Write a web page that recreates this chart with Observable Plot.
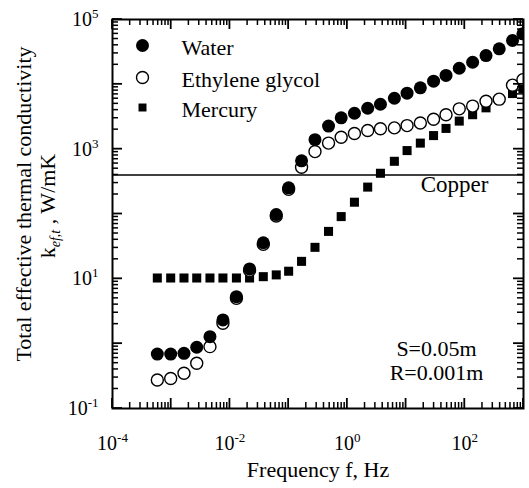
<!DOCTYPE html>
<html><head><meta charset="utf-8">
<script src="https://cdn.jsdelivr.net/npm/d3@7"></script>
<script src="https://cdn.jsdelivr.net/npm/@observablehq/plot@0.6"></script>
<style>body{margin:0;background:#fff} svg{display:block} svg text{font-family:"Liberation Serif","Times New Roman",serif}</style>
</head><body><div id="chart"></div>
<script>
const frequency = [5.8e-4, 9.8e-4, 1.65e-3, 2.72e-3, 4.57e-3, 7.6e-3, 0.0129, 0.0216, 0.037, 0.0615, 0.1, 0.166, 0.281, 0.478, 0.785, 1.32, 2.22, 3.66, 6.32, 10.4, 17.5, 29.4, 47.9, 80.5, 136, 230, 386, 650, 977];
const water = [0.69, 0.69, 0.71, 0.88, 1.28, 2.32, 5.3, 14.2, 36, 98, 253, 660, 1400, 2270, 3040, 3580, 4280, 4930, 6100, 7300, 8830, 11200, 13700, 17700, 21900, 27800, 35300, 47400, 60100];
const ethyleneGlycol = [0.275, 0.29, 0.35, 0.50, 0.90, 2.06, 5.0, 13.5, 34, 93, 240, 526, 918, 1240, 1530, 1740, 1940, 2060, 2130, 2310, 2530, 2890, 3400, 4190, 4620, 5470, 5910, 9720, 11800];
const mercury = [10.3, 10.3, 10.3, 10.3, 10.3, 10.3, 10.3, 10.3, 10.8, 11.5, 13.1, 18.6, 30.6, 53.9, 91.2, 152, 260, 425, 650, 951, 1240, 1620, 2090, 2710, 3400, 4340, 5780, 7210, 8610];
const copperK = [401];
const copperLabel = ["Copper"];
const seriesNames = ["Water", "Ethylene glycol", "Mercury"];
const annotation = ["S=0.05m\nR=0.001m"];
const xMajorTicks = [1e-4, 1e-3, 1e-2, 1e-1, 1e0, 1e1, 1e2, 1e3];
const yMajorTicks = [1e-1, 1e0, 1e1, 1e2, 1e3, 1e4, 1e5];
const xLabelTicks = [1e-4, 1e-2, 1e0, 1e2];
const yLabelTicks = [1e-1, 1e1, 1e3, 1e5];
const xTitle = ["Frequency f, Hz"];
const yTitle = ["Total effective thermal conductivity"];
const yUnit = ["k|ef,t|, W/mK"];

const minorOf = majors => majors.slice(0, -1).flatMap(m => [2,3,4,5,6,7,8,9].map(k => k * m));
const xMinor = minorOf(xMajorTicks);
const yMinor = minorOf(yMajorTicks);

const rows = frequency.map((f, i) => ({f, water: water[i], eg: ethyleneGlycol[i], hg: mercury[i]}));

const W = 529, H = 488, mL = 112, mR = 6, mT = 19, mB = 80;
const majLen = 10, minLen = 6;
const fmt = d => "10^" + Math.round(Math.log10(d));
const serif = "Liberation Serif";

const chart = Plot.plot({
  width: W, height: H, marginLeft: mL, marginRight: mR, marginTop: mT, marginBottom: mB,
  x: {type: "log", domain: [1e-4, 1e3]},
  y: {type: "log", domain: [1e-1, 1e5]},
  style: {fontFamily: serif, fontSize: "20px", color: "black", background: "white"},
  marks: [
    Plot.ruleY(copperK, {stroke: "black", strokeWidth: 1.5}),
    Plot.dot(rows, {x: "f", y: "hg", symbol: "square", r: 5.1, fill: "black", clip: true}),
    Plot.dot(rows, {x: "f", y: "eg", r: 6, fill: "white", stroke: "black", strokeWidth: 1.4, clip: true}),
    Plot.dot(rows, {x: "f", y: "water", r: 6.5, fill: "black", clip: true}),
    Plot.frame({stroke: "black", strokeWidth: 2}),
    // legend
    Plot.dot([seriesNames[0]], {frameAnchor: "top-left", dx: 30, dy: 26, r: 6.5, fill: "black"}),
    Plot.dot([seriesNames[1]], {frameAnchor: "top-left", dx: 30, dy: 58, r: 6, fill: "white", stroke: "black", strokeWidth: 1.4}),
    Plot.dot([seriesNames[2]], {frameAnchor: "top-left", dx: 30, dy: 88, symbol: "square", r: 4.5, fill: "black"}),
    Plot.text([seriesNames[0]], {frameAnchor: "top-left", dx: 69, dy: 28, text: d => d, textAnchor: "start", lineAnchor: "middle", fontSize: 22, fontFamily: serif}),
    Plot.text([seriesNames[1]], {frameAnchor: "top-left", dx: 69, dy: 60, text: d => d, textAnchor: "start", lineAnchor: "middle", fontSize: 22, fontFamily: serif}),
    Plot.text([seriesNames[2]], {frameAnchor: "top-left", dx: 69, dy: 90, text: d => d, textAnchor: "start", lineAnchor: "middle", fontSize: 22, fontFamily: serif}),
    // annotations
    Plot.text(copperLabel, {frameAnchor: "right", y: copperK[0], dx: -35, dy: 10, text: d => d, textAnchor: "end", lineAnchor: "middle", fontSize: 23, fontFamily: serif}),
    Plot.text(annotation, {frameAnchor: "bottom-right", dx: -87, dy: -29, text: d => d, textAnchor: "middle", lineAnchor: "bottom", lineHeight: 1.05, fontSize: 22, fontFamily: serif}),
    // axes
    Plot.axisX({ticks: xLabelTicks, tickSize: 0, tickPadding: 27, tickFormat: fmt, fontSize: 20, label: null, fontFamily: serif}),
    Plot.axisY({ticks: yLabelTicks, tickSize: 0, tickPadding: 14, tickFormat: fmt, fontSize: 20, label: null, fontFamily: serif}),
    Plot.text(xTitle, {frameAnchor: "bottom", dy: 68, text: d => d, textAnchor: "middle", lineAnchor: "bottom", fontSize: 22, fontFamily: serif}),
    Plot.text(yTitle, {frameAnchor: "left", dx: -89, dy: -10, rotate: -90, text: d => d, textAnchor: "middle", lineAnchor: "middle", fontSize: 22, fontFamily: serif}),
    Plot.text(yUnit, {frameAnchor: "left", dx: -65, dy: -8, rotate: -90, text: d => d, textAnchor: "middle", lineAnchor: "middle", fontSize: 22, fontFamily: serif})
  ]
});

// inward log ticks on all four sides, placed with the chart's own scales
const sx = chart.scale("x"), sy = chart.scale("y");
const frameL = mL, frameR = W - mR, frameT = mT, frameB = H - mB;
const gT = d3.select(chart).append("g").attr("stroke", "black").attr("aria-label", "inward ticks");
for (const [ts, len, sw] of [[xMinor, minLen, 1.5], [xMajorTicks, majLen, 1.8]]) {
  for (const v of ts) {
    const px = sx.apply(v);
    gT.append("line").attr("x1", px).attr("x2", px).attr("y1", frameB).attr("y2", frameB - len).attr("stroke-width", sw);
    gT.append("line").attr("x1", px).attr("x2", px).attr("y1", frameT).attr("y2", frameT + len).attr("stroke-width", sw);
  }
}
for (const [ts, len, sw] of [[yMinor, minLen, 1.5], [yMajorTicks, majLen, 1.8]]) {
  for (const v of ts) {
    const py = sy.apply(v);
    gT.append("line").attr("y1", py).attr("y2", py).attr("x1", frameL).attr("x2", frameL + len).attr("stroke-width", sw);
    gT.append("line").attr("y1", py).attr("y2", py).attr("x1", frameR).attr("x2", frameR - len).attr("stroke-width", sw);
  }
}

// superscripts on tick labels
d3.select(chart).selectAll('g[aria-label="x-axis tick label"] text, g[aria-label="y-axis tick label"] text').each(function() {
  const s = this.textContent;
  if (!s.includes("^")) return;
  const [base, exp] = s.split("^");
  const t = d3.select(this);
  t.text(null);
  t.append("tspan").text(base);
  t.append("tspan").attr("dy", "-8").attr("font-size", 13).text(exp);
});
// subscript on unit label
d3.select(chart).selectAll("text").each(function() {
  const s = this.textContent;
  if (!s.includes("|")) return;
  const [a, b, c] = s.split("|");
  const t = d3.select(this);
  t.text(null);
  t.append("tspan").text(a);
  t.append("tspan").attr("dy", "5").attr("font-size", 14).attr("font-style", "italic").text(b);
  t.append("tspan").attr("dy", "-5").text(" " + c);
});

document.getElementById("chart").append(chart);
</script>
</body></html>
